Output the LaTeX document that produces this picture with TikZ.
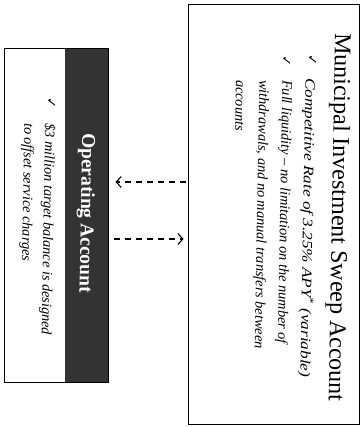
\documentclass[tikz,border=0pt]{standalone}
\usepackage{fontspec}
\setmainfont{Liberation Serif}
\newfontfamily\wideit{Liberation Serif}[FakeStretch=1.2]
\newfontfamily\symfont{DejaVu Sans}
\usetikzlibrary{arrows.meta,calc}
\definecolor{bandgray}{HTML}{333333}
\begin{document}
\begin{tikzpicture}[x=1pt,y=-1pt,
  titletext/.style={rotate=-91, anchor=west, inner sep=0pt},
  bul/.style={rotate=-91, anchor=west, inner sep=0pt, font=\itshape\fontsize{14.3}{16}\selectfont},
  chk/.style={rotate=-91, inner sep=0pt, font=\symfont\fontsize{13}{13}\selectfont},
  flow/.style={line width=1.1pt, dash pattern=on 6pt off 5pt, -{Straight Barb[length=5pt,width=11pt,line width=1.1pt]}}]
\useasboundingbox (0,0) rectangle (362,427);
% sweep account box
\node[draw, line width=0.8pt, minimum width=171pt, minimum height=420pt, inner sep=0pt] (sweep) at (273.5,214) {};
\node[titletext, font=\fontsize{24}{27}\selectfont] (sweeptitle) at (341,33) {Municipal Investment Sweep Account};
\node[chk] (c1) at (312,60) {✓};
\node[bul, font=\wideit\itshape\fontsize{14.3}{16}\selectfont] (b1) at (310,78) {Competitive Rate of 3.25\% APY\textsuperscript{*} (variable)};
\node[chk] (c2) at (286,61) {✓};
\node[bul] (b2a) at (286,80) {Full liquidity -- no limitation on the number of};
\node[bul] (b2b) at (263,80) {withdrawals, and no manual transfers between};
\node[bul] (b2c) at (240,80) {accounts};
% operating account
\node[fill=bandgray, minimum width=43pt, minimum height=333pt, inner sep=0pt] (band) at (86.5,215.5) {};
\node[draw, line width=1pt, minimum width=104pt, minimum height=333pt, inner sep=0pt] (op) at (56,215.5) {};
\node[titletext, text=white, font=\bfseries\fontsize{19.5}{22}\selectfont] (optitle) at (87,133) {Operating Account};
\node[chk] (c3) at (51,103) {✓};
\node[bul] (o1) at (49,123) {\$3 million target balance is designed};
\node[bul] (o2) at (28,123) {to offset service charges};
% arrows
\coordinate (up) at (0,182);
\coordinate (dn) at (0,239);
\draw[flow] ($(sweep.west |- up)+(-2,0)$) -- ($(op.east |- up)+(7,0)$);
\draw[flow] ($(op.east |- dn)+(5,0)$) -- ($(sweep.west |- dn)+(-4,0)$);
\end{tikzpicture}
\end{document}
